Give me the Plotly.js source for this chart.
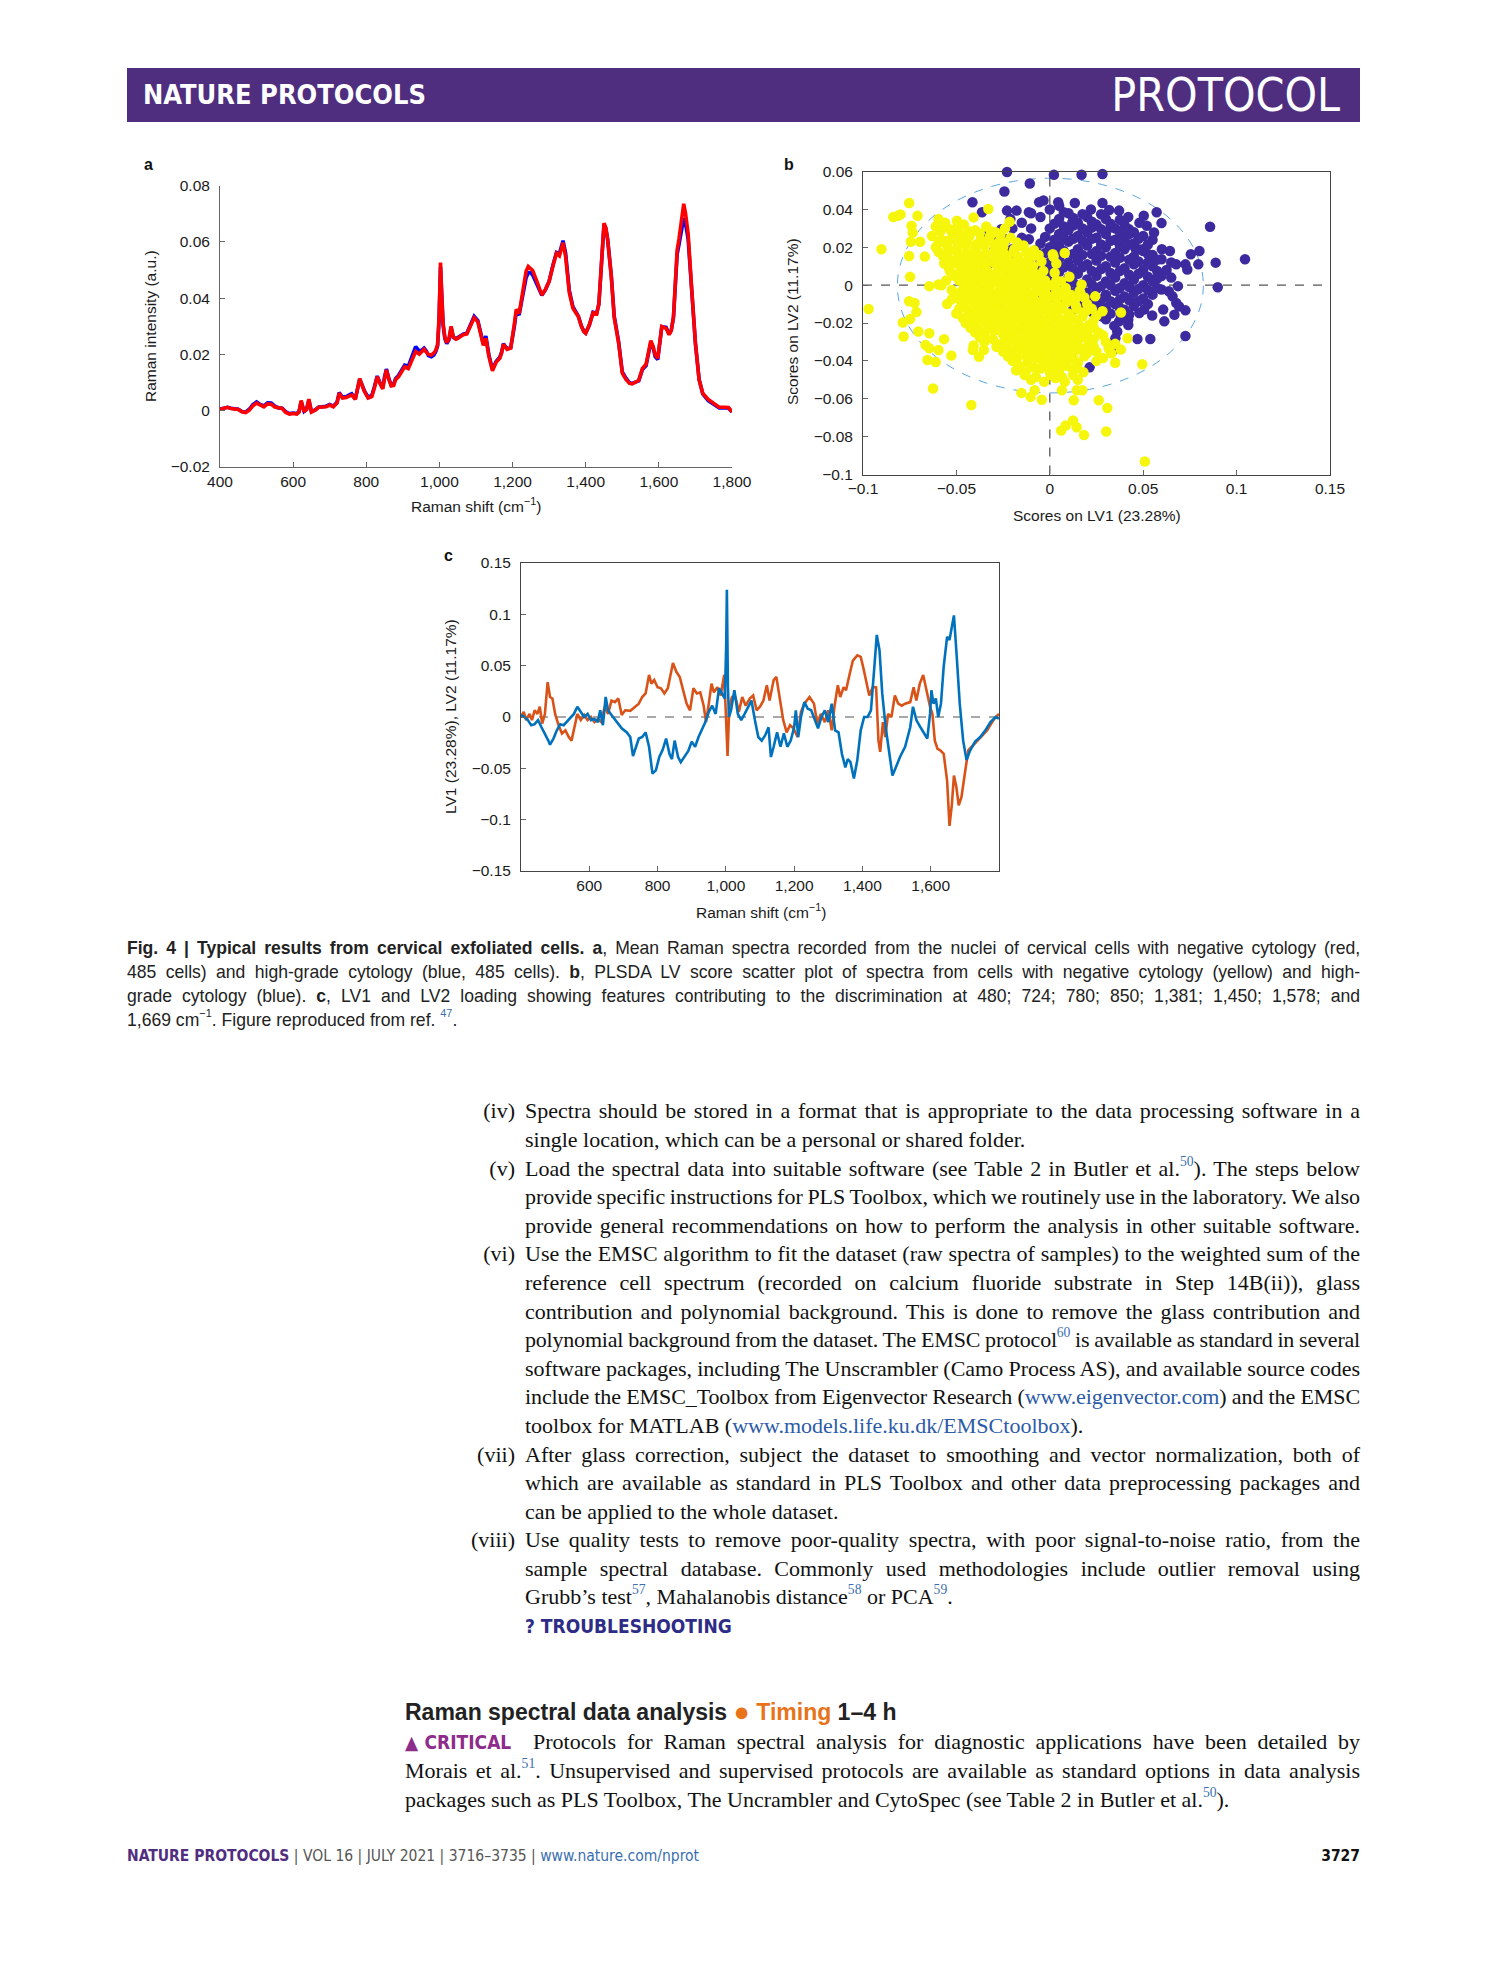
<!DOCTYPE html>
<html>
<head>
<meta charset="utf-8">
<script src="https://cdn.plot.ly/plotly-3.0.1.min.js"></script>
<style>
html,body{margin:0;padding:0;background:#fff;}
body{width:1489px;height:1978px;position:relative;overflow:hidden;}
.narrow{font-family:"DejaVu Sans Condensed","Liberation Sans",sans-serif;}
#bar{position:absolute;left:127px;top:68px;width:1233px;height:54px;background:#4f2d7f;color:#fff;}
#barL{position:absolute;left:16px;top:0;line-height:54px;font-size:27px;font-weight:bold;}
#barR{position:absolute;right:20px;top:0;line-height:54px;font-size:46px;font-weight:normal;}
#chart{position:absolute;left:0;top:0;width:1489px;height:940px;}
#caption{position:absolute;left:127px;top:936px;width:1233px;color:#222;}
#caption .cl{width:1298px;height:24px;line-height:24px;transform:scaleX(0.95);transform-origin:0 0;
  font-family:"Liberation Sans",Arial,sans-serif;font-size:18.5px;}
.j{text-align:justify;text-align-last:justify;}
sup{font-size:0.62em;line-height:0;vertical-align:0.75em;color:#3a6fb0;}
#body{position:absolute;left:525px;top:1097.4px;width:835px;font-family:"Liberation Serif","DejaVu Serif",serif;font-size:22px;color:#111;}
#body .ln{position:relative;height:28.6px;line-height:28.6px;}
#body .j,#crit .j{word-spacing:-1px;}
.num{position:absolute;left:-90px;width:80px;text-align:right;text-align-last:right;word-spacing:0;}
a{color:#2c5ba8;text-decoration:none;}
.ts{font-family:"DejaVu Sans Condensed",sans-serif;font-weight:bold;color:#2e2c86;font-size:19px;}
#heading{position:absolute;left:405px;top:1698px;height:28px;line-height:28px;font-family:"Liberation Sans",Arial,sans-serif;font-weight:bold;font-size:23px;color:#222;}
#heading .or{color:#e8731a;font-weight:normal;}
#heading .dot{font-size:27px;line-height:0;vertical-align:-1px;}
#crit{position:absolute;left:405px;top:1726.7px;width:955px;font-family:"Liberation Serif","DejaVu Serif",serif;font-size:22px;color:#111;}
#crit .ln{height:29px;line-height:29px;}
.cr{font-family:"DejaVu Sans Condensed",sans-serif;font-weight:bold;color:#8e2c8c;font-size:19px;word-spacing:0;}
#footer{position:absolute;left:127px;top:1845px;width:1233px;height:22px;line-height:22px;font-size:15.5px;color:#555;}
#footer .fp{color:#4f2d7f;font-weight:bold;}
#footer .fl{color:#3a6fb0;}
#footer .pg{position:absolute;right:0;top:0;font-weight:bold;color:#111;}
</style>
</head>
<body>
<div id="bar" class="narrow"><span id="barL">NATURE PROTOCOLS</span><span id="barR">PROTOCOL</span></div>
<div id="chart"></div>

<div id="caption">
<div class="cl j"><b>Fig. 4 | Typical results from cervical exfoliated cells. a</b>, Mean Raman spectra recorded from the nuclei of cervical cells with negative cytology (red,</div>
<div class="cl j">485 cells) and high-grade cytology (blue, 485 cells). <b>b</b>, PLSDA LV score scatter plot of spectra from cells with negative cytology (yellow) and high-</div>
<div class="cl j">grade cytology (blue). <b>c</b>, LV1 and LV2 loading showing features contributing to the discrimination at 480; 724; 780; 850; 1,381; 1,450; 1,578; and</div>
<div class="cl">1,669 cm<sup style="color:#222">−1</sup>. Figure reproduced from ref. <sup>47</sup>.</div>
</div>

<div id="body">
<div class="ln j"><span class="num">(iv)</span>Spectra should be stored in a format that is appropriate to the data processing software in a</div>
<div class="ln">single location, which can be a personal or shared folder.</div>
<div class="ln j"><span class="num">(v)</span>Load the spectral data into suitable software (see Table 2 in Butler et al.<sup>50</sup>). The steps below</div>
<div class="ln j">provide specific instructions for PLS Toolbox, which we routinely use in the laboratory. We also</div>
<div class="ln j">provide general recommendations on how to perform the analysis in other suitable software.</div>
<div class="ln j"><span class="num">(vi)</span>Use the EMSC algorithm to fit the dataset (raw spectra of samples) to the weighted sum of the</div>
<div class="ln j">reference cell spectrum (recorded on calcium fluoride substrate in Step 14B(ii)), glass</div>
<div class="ln j">contribution and polynomial background. This is done to remove the glass contribution and</div>
<div class="ln j">polynomial background from the dataset. The EMSC protocol<sup>60</sup> is available as standard in several</div>
<div class="ln j">software packages, including The Unscrambler (Camo Process AS), and available source codes</div>
<div class="ln j">include the EMSC_Toolbox from Eigenvector Research (<a>www.eigenvector.com</a>) and the EMSC</div>
<div class="ln">toolbox for MATLAB (<a>www.models.life.ku.dk/EMSCtoolbox</a>).</div>
<div class="ln j"><span class="num">(vii)</span>After glass correction, subject the dataset to smoothing and vector normalization, both of</div>
<div class="ln j">which are available as standard in PLS Toolbox and other data preprocessing packages and</div>
<div class="ln">can be applied to the whole dataset.</div>
<div class="ln j"><span class="num">(viii)</span>Use quality tests to remove poor-quality spectra, with poor signal-to-noise ratio, from the</div>
<div class="ln j">sample spectral database. Commonly used methodologies include outlier removal using</div>
<div class="ln">Grubb’s test<sup>57</sup>, Mahalanobis distance<sup>58</sup> or PCA<sup>59</sup>.</div>
<div class="ln"><span class="ts">? TROUBLESHOOTING</span></div>
</div>

<div id="heading">Raman spectral data analysis <span class="or dot">●</span> <span class="or" style="font-weight:bold">Timing</span> 1–4 h</div>
<div id="crit">
<div class="ln j"><span class="cr">▲CRITICAL</span>&nbsp; Protocols for Raman spectral analysis for diagnostic applications have been detailed by</div>
<div class="ln j">Morais et al.<sup>51</sup>. Unsupervised and supervised protocols are available as standard options in data analysis</div>
<div class="ln">packages such as PLS Toolbox, The Uncrambler and CytoSpec (see Table 2 in Butler et al.<sup>50</sup>).</div>
</div>

<div id="footer" class="narrow"><span class="fp">NATURE PROTOCOLS</span> | VOL 16 | JULY 2021 | 3716–3735 | <span class="fl">www.nature.com/nprot</span><span class="pg">3727</span></div>

<script>
// keep every text line on a single line: tighten letter spacing only if a line would wrap
document.querySelectorAll('#body .ln, #crit .ln, #caption .cl').forEach(el=>{
  const lh=parseFloat(getComputedStyle(el).lineHeight);
  el.style.height='auto';
  let ls=0;
  while(el.offsetHeight>lh*1.5 && ls>-2){ls-=0.1; el.style.letterSpacing=ls.toFixed(2)+'px';}
  el.style.height='';
});

// ---------- Panel a: mean Raman spectra ----------
const ramanShift = [
400,410,420,430,440,450,460,470,480,490,
500,510,520,530,540,550,560,570,580,590,
600,610,616,622,630,637,643,650,660,670,
680,690,700,710,720,726,735,745,755,760,
770,776,782,788,795,805,815,822,830,838,
845,850,855,862,868,875,880,888,895,905,
915,925,935,945,952,958,964,970,978,985,
990,995,999,1003,1006,1010,1015,1020,1026,1032,
1038,1045,1050,1058,1065,1075,1085,1095,1105,1112,
1120,1127,1135,1145,1155,1165,1170,1175,1180,1185,
1195,1200,1205,1210,1218,1225,1230,1237,1243,1250,
1255,1265,1272,1280,1290,1300,1310,1320,1328,1333,
1338,1345,1350,1355,1365,1372,1380,1388,1395,1400,
1410,1420,1430,1436,1440,1445,1450,1455,1460,1470,
1478,1490,1500,1510,1520,1527,1535,1545,1555,1565,
1572,1578,1584,1590,1597,1603,1608,1614,1620,1628,
1634,1640,1645,1650,1655,1660,1664,1668,1673,1680,
1690,1700,1710,1720,1735,1750,1765,1780,1790,1800];
const negativeMean = [
0.0005,0.0008,0.0012,0.0008,0.0006,0.0004,-0.0004,-0.0007,0.0002,0.0017,
0.0027,0.0019,0.0014,0.0024,0.0023,0.0013,0.0009,0.0008,-0.0006,-0.0012,
-0.0010,-0.0012,-0.0005,0.0036,-0.0004,0.0005,0.0041,-0.0005,0.0002,0.0012,
0.0013,0.0014,0.0020,0.0014,0.0028,0.0062,0.0045,0.0047,0.0053,0.0056,
0.0040,0.0075,0.0114,0.0092,0.0068,0.0045,0.0050,0.0080,0.0121,0.0095,
0.0077,0.0115,0.0145,0.0110,0.0088,0.0090,0.0110,0.0120,0.0133,0.0156,
0.0150,0.0180,0.0210,0.0201,0.0210,0.0218,0.0208,0.0200,0.0198,0.0205,
0.0215,0.0235,0.0330,0.0526,0.0420,0.0310,0.0260,0.0242,0.0255,0.0300,
0.0262,0.0254,0.0257,0.0265,0.0270,0.0273,0.0299,0.0330,0.0316,0.0280,
0.0232,0.0257,0.0195,0.0142,0.0172,0.0186,0.0205,0.0236,0.0228,0.0218,
0.0222,0.0260,0.0310,0.0360,0.0345,0.0400,0.0441,0.0495,0.0512,0.0505,
0.0498,0.0465,0.0440,0.0411,0.0431,0.0459,0.0512,0.0559,0.0550,0.0575,
0.0597,0.0548,0.0480,0.0420,0.0364,0.0352,0.0334,0.0300,0.0281,0.0275,
0.0305,0.0348,0.0344,0.0380,0.0453,0.0580,0.0666,0.0650,0.0607,0.0476,
0.0330,0.0240,0.0133,0.0111,0.0097,0.0095,0.0100,0.0108,0.0150,0.0165,
0.0210,0.0249,0.0230,0.0198,0.0186,0.0250,0.0299,0.0295,0.0293,0.0270,
0.0285,0.0334,0.0450,0.0571,0.0610,0.0654,0.0700,0.0735,0.0700,0.0630,
0.0429,0.0239,0.0109,0.0062,0.0040,0.0026,0.0012,0.0012,0.0011,-0.0004];
const highGradeMean = [
0.0006,0.0009,0.0012,0.0009,0.0007,0.0005,-0.0003,-0.0005,0.0005,0.0022,
0.0031,0.0022,0.0017,0.0028,0.0027,0.0016,0.0010,0.0009,-0.0004,-0.0010,
-0.0008,-0.0010,-0.0003,0.0032,-0.0002,0.0006,0.0038,-0.0003,0.0003,0.0013,
0.0014,0.0016,0.0022,0.0016,0.0030,0.0064,0.0048,0.0050,0.0057,0.0060,
0.0042,0.0076,0.0112,0.0093,0.0070,0.0048,0.0054,0.0084,0.0123,0.0098,
0.0081,0.0120,0.0148,0.0113,0.0092,0.0095,0.0114,0.0125,0.0140,0.0162,
0.0158,0.0192,0.0228,0.0212,0.0215,0.0222,0.0212,0.0196,0.0192,0.0198,
0.0210,0.0230,0.0320,0.0510,0.0410,0.0305,0.0255,0.0238,0.0252,0.0295,
0.0260,0.0256,0.0260,0.0268,0.0272,0.0276,0.0302,0.0335,0.0320,0.0285,
0.0238,0.0265,0.0200,0.0146,0.0175,0.0190,0.0208,0.0238,0.0230,0.0220,
0.0224,0.0255,0.0300,0.0350,0.0340,0.0390,0.0425,0.0472,0.0490,0.0490,
0.0482,0.0455,0.0432,0.0410,0.0430,0.0460,0.0515,0.0562,0.0558,0.0585,
0.0604,0.0560,0.0490,0.0428,0.0370,0.0356,0.0336,0.0302,0.0282,0.0276,
0.0304,0.0350,0.0346,0.0378,0.0448,0.0570,0.0660,0.0648,0.0608,0.0480,
0.0335,0.0245,0.0138,0.0116,0.0099,0.0097,0.0100,0.0106,0.0146,0.0160,
0.0205,0.0242,0.0226,0.0192,0.0182,0.0248,0.0298,0.0297,0.0296,0.0272,
0.0286,0.0332,0.0440,0.0555,0.0590,0.0630,0.0665,0.0684,0.0665,0.0610,
0.0425,0.0240,0.0112,0.0060,0.0036,0.0022,0.0010,0.0010,0.0010,-0.0005];

// ---------- Panel b: LV scores ----------
const highGradeScores = [
[-0.0229,0.0598],[0.0022,0.0583],[0.017,0.0583],[0.0282,0.0587],[-0.0107,0.0537],[-0.0243,0.0495],
[-0.0414,0.0438],[-0.0363,0.0385],[-0.0229,0.0394],[-0.0178,0.0394],[-0.0112,0.0385],[-0.0057,0.0438],
[-0.0034,0.0447],[0.0045,0.0438],[0.0134,0.0434],[0.0282,0.0434],[0.0318,0.0397],[0.0371,0.0394],
[0.0503,0.0367],[0.0572,0.0385],[0.0598,0.0328],[0.0858,0.0309],[0.0801,0.0181],[0.0755,0.0163],
[0.0795,0.011],[0.0888,0.0119],[0.1045,0.0137],[0.0899,-0.0011],[0.0726,0.011],[0.0677,0.011],
[0.0736,0.0083],[0.0643,0.0181],[0.0598,0.0137],[0.0538,0.0154],[0.0499,0.019],[0.046,0.019],
[0.0598,0.0048],[0.0558,0.003],[0.0598,-0.0023],[0.0686,-0.0005],[0.0637,-0.0032],[0.0677,-0.0094],
[0.0692,-0.0112],[0.0726,-0.0133],[0.0667,-0.0156],[0.0607,-0.0129],[0.0613,-0.0191],[0.0505,-0.0129],
[0.0548,-0.016],[0.0479,-0.0147],[0.0726,-0.0268],[0.0538,-0.0284],[0.0469,-0.0284],[0.0371,-0.0191],
[0.042,-0.0183],[0.0361,-0.0245],[0.0351,-0.028],[0.0321,-0.0316],[0.0341,-0.0342],[0.0213,-0.0434],
[0.0282,-0.0165],[0.0243,-0.0085],[0.0203,-0.0059],[0.0183,-0.0112],[0.0124,-0.0129],[0.0085,-0.0076],
[0.0026,-0.0067],[-0.0034,-0.0023],[-0.0073,-0.0059],[-0.0112,-0.0076],[-0.0132,-0.0023],[-0.0181,0.0012],
[-0.0211,0.0048],[-0.0241,0.0092],[-0.031,0.0119],[-0.0349,0.0101],[-0.0379,0.0066],[-0.0389,0.0039],
[-0.0428,0.0012],[-0.0428,-0.0041],[-0.0329,0.027],[-0.029,0.0261],[-0.026,0.0296],[-0.0211,0.0349],
[-0.0201,0.019],[-0.0152,0.0216],[-0.0112,0.0243],[-0.0231,0.0243],[0.0519,0.0314],[0.0558,0.0278],
[0.0657,-0.0059],[0.0455,-0.0095],
[0.005,0.035],[0.01,0.038],[0.015,0.033],[0.02,0.036],[0.025,0.032],[0.03,0.035],[0.035,0.03],[0.04,0.032],[0.045,0.028],
[0.0,0.03],[0.005,0.027],[0.01,0.029],[0.015,0.026],[0.02,0.028],[0.025,0.025],[0.03,0.027],[0.035,0.024],[0.04,0.025],
[0.045,0.022],[0.05,0.026],[0.055,0.024],[-0.005,0.022],[0.0,0.02],[0.005,0.021],[0.01,0.023],[0.015,0.019],[0.02,0.021],
[0.025,0.018],[0.03,0.02],[0.035,0.017],[0.04,0.019],[0.045,0.015],[0.05,0.018],[0.055,0.016],[0.06,0.019],
[-0.01,0.015],[-0.005,0.013],[0.0,0.012],[0.005,0.014],[0.01,0.012],[0.015,0.013],[0.02,0.011],[0.025,0.013],[0.03,0.01],
[0.035,0.012],[0.04,0.009],[0.045,0.011],[0.05,0.008],[0.055,0.01],[0.065,0.012],
[-0.015,0.008],[-0.01,0.006],[0.0,0.005],[0.005,0.007],[0.01,0.004],[0.015,0.006],[0.02,0.003],[0.025,0.005],[0.03,0.002],
[0.035,0.004],[0.04,0.001],[0.045,0.003],[0.05,0.0],[0.055,0.002],[0.065,0.004],
[0.0,-0.002],[0.01,-0.003],[0.015,-0.001],[0.02,-0.004],[0.025,-0.002],[0.03,-0.005],[0.035,-0.003],[0.04,-0.006],
[0.045,-0.004],[0.05,-0.007],[0.055,-0.005],[0.015,-0.009],[0.02,-0.011],[0.025,-0.009],[0.03,-0.012],[0.035,-0.01],
[0.04,-0.013],[0.045,-0.011],[0.03,-0.018],[0.038,-0.016],[0.042,-0.021],
[-0.02,0.03],[-0.015,0.033],[-0.01,0.03],[-0.005,0.036],[-0.025,0.022],[-0.02,0.016],[-0.015,0.025],[-0.03,0.018],
[-0.01,0.038],[0.0,0.04],[0.005,0.042],[0.022,0.04],[0.012,0.033],[0.042,0.036],[0.048,0.033],
[0.0075,0.0385],[0.0125,0.0355],[0.0175,0.0375],[0.0225,0.0335],[0.0275,0.0375],[0.0325,0.0325],[0.0375,0.0345],[0.0425,0.0295],
[0.0025,0.0325],[0.0075,0.031],[0.0125,0.0315],[0.0175,0.03],[0.0225,0.0305],[0.0275,0.0295],[0.0325,0.0305],[0.0375,0.028],
[0.0425,0.027],[0.0475,0.0245],[0.0525,0.0215],
[-0.0025,0.0255],[0.0025,0.024],[0.0075,0.025],[0.0125,0.0245],[0.0175,0.0235],[0.0225,0.0245],[0.0275,0.0215],[0.0325,0.0235],
[0.0375,0.021],[0.0425,0.0215],[0.0475,0.019],[0.0525,0.0165],[0.0575,0.0135],
[-0.0075,0.0185],[-0.0025,0.017],[0.0025,0.0175],[0.0075,0.018],[0.0125,0.0165],[0.0175,0.016],[0.0225,0.0165],[0.0275,0.0155],
[0.0325,0.015],[0.0375,0.0145],[0.0425,0.0135],[0.0475,0.0125],[0.0525,0.012],[0.0575,0.0075],[0.0625,0.008],
[-0.0125,0.011],[-0.0075,0.0095],[-0.0025,0.0085],[0.0025,0.0095],[0.0075,0.0095],[0.0125,0.0085],[0.0175,0.0095],[0.0225,0.0075],
[0.0275,0.0085],[0.0325,0.0065],[0.0375,0.0075],[0.0425,0.0055],[0.0475,0.006],[0.0525,0.0045],[0.0575,0.0035],
[0.0025,0.0015],[0.0075,0.001],[0.0125,0.0015],[0.0175,0.0005],[0.0225,0.0005],[0.0275,-0.0005],[0.0325,0.0],[0.0375,-0.0015],
[0.0425,-0.001],[0.0475,-0.002],[0.0525,-0.0025],[0.0575,-0.0015],
[0.0125,-0.006],[0.0175,-0.0065],[0.0225,-0.0065],[0.0275,-0.0075],[0.0325,-0.0085],[0.0375,-0.0075],[0.0425,-0.008],[0.0475,-0.0085],
[0.0525,-0.01],[0.0225,-0.014],[0.0275,-0.012],[0.0325,-0.015],[0.0375,-0.012],[0.0425,-0.0155],[0.0345,-0.0215]];

const negativeScores = [
[-0.0753,0.0434],[-0.0838,0.036],[-0.0813,0.0367],[-0.0799,0.0374],[-0.0708,0.0367],[-0.074,0.0314],
[-0.0734,0.0278],[-0.0694,0.0229],[-0.0744,0.0229],[-0.0901,0.019],[-0.0753,0.0154],[-0.0669,0.0151],
[-0.0748,0.0044],[-0.097,-0.0126],[-0.0645,-0.0005],[-0.0596,0.0004],[-0.0753,-0.0085],[-0.0724,-0.0094],
[-0.0714,-0.0142],[-0.0748,-0.0179],[-0.0787,-0.0197],[-0.0783,-0.0271],[-0.0704,-0.0245],[-0.0645,-0.0254],
[-0.0665,-0.0316],[-0.0645,-0.0333],[-0.0596,-0.0342],[-0.0655,-0.0395],[-0.0611,-0.0406],[-0.0527,-0.0372],
[-0.0566,-0.0285],[-0.0408,-0.0319],[-0.0412,-0.0342],[-0.0379,-0.0378],[-0.0353,-0.0342],[-0.0625,-0.0546],
[-0.042,-0.0633],[-0.0152,-0.0569],[-0.0103,-0.059],[-0.0081,-0.0555],[-0.0043,-0.0605],[0.0065,-0.0555],
[0.0144,-0.0555],[0.0174,-0.0555],[0.0128,-0.0608],[0.0262,-0.0608],[0.0308,-0.0649],[0.0124,-0.0715],
[0.0085,-0.0741],[0.0061,-0.0768],[0.0144,-0.075],[0.0183,-0.0791],[0.0302,-0.0773],[0.0509,-0.0931],
[0.0495,-0.0418],[0.0416,-0.028],[0.0381,-0.0144],[0.0282,-0.0138],[0.0243,-0.0059],[0.017,0.0004],
[0.0164,-0.0044],[0.0026,0.0066],[0.0016,0.0163],[-0.0329,0.0402],[-0.0408,0.0358],[-0.0497,0.034],
[-0.0596,0.0349],[-0.0215,0.0335],[-0.0152,0.0207],[-0.0085,0.0185],[0.0035,0.0115],[0.0105,0.0045],
[-0.061,0.031],[-0.056,0.033],[-0.05,0.03],[-0.046,0.032],[-0.04,0.029],[-0.034,0.031],[-0.029,0.028],[-0.024,0.030],
[-0.063,0.026],[-0.058,0.024],[-0.052,0.027],[-0.047,0.025],[-0.043,0.026],[-0.037,0.024],[-0.032,0.026],[-0.027,0.023],[-0.021,0.025],
[-0.061,0.02],[-0.055,0.021],[-0.05,0.019],[-0.045,0.021],[-0.04,0.019],[-0.035,0.021],[-0.03,0.018],[-0.025,0.02],[-0.019,0.019],[-0.014,0.021],
[-0.057,0.015],[-0.052,0.013],[-0.048,0.016],[-0.043,0.014],[-0.038,0.015],[-0.033,0.013],[-0.028,0.016],[-0.023,0.014],[-0.017,0.015],
[-0.012,0.013],[-0.006,0.016],[0.002,0.015],[0.008,0.017],
[-0.054,0.009],[-0.049,0.011],[-0.045,0.009],[-0.039,0.01],[-0.034,0.008],[-0.029,0.011],[-0.024,0.009],[-0.019,0.01],[-0.014,0.008],[-0.009,0.01],
[-0.051,0.005],[-0.046,0.004],[-0.041,0.006],[-0.036,0.004],[-0.031,0.005],[-0.026,0.003],[-0.021,0.005],[-0.016,0.004],[-0.011,0.006],[-0.006,0.004],
[-0.058,0.0],[-0.046,-0.001],[-0.041,0.001],[-0.036,-0.001],[-0.031,0.001],[-0.026,-0.001],[-0.021,0.0],[-0.016,-0.001],[-0.01,0.001],[-0.005,-0.001],[0.001,0.0],[0.006,0.002],
[-0.05,-0.005],[-0.044,-0.006],[-0.039,-0.004],[-0.034,-0.006],[-0.029,-0.005],[-0.024,-0.006],[-0.019,-0.004],[-0.014,-0.006],[-0.009,-0.005],[-0.004,-0.004],[0.001,-0.006],[0.006,-0.004],[0.011,-0.005],[0.016,-0.003],
[-0.055,-0.01],[-0.046,-0.011],[-0.041,-0.009],[-0.036,-0.011],[-0.031,-0.01],[-0.026,-0.011],[-0.021,-0.009],[-0.016,-0.011],[-0.011,-0.01],[-0.006,-0.009],[-0.001,-0.011],[0.004,-0.01],[0.009,-0.009],[0.014,-0.011],[0.02,-0.01],
[-0.05,-0.015],[-0.041,-0.016],[-0.036,-0.014],[-0.031,-0.016],[-0.026,-0.015],[-0.021,-0.016],[-0.016,-0.014],[-0.011,-0.016],[-0.006,-0.015],[-0.001,-0.014],[0.004,-0.016],[0.01,-0.015],[0.019,-0.014],[0.025,-0.016],
[-0.045,-0.02],[-0.04,-0.021],[-0.035,-0.019],[-0.03,-0.021],[-0.025,-0.02],[-0.02,-0.021],[-0.015,-0.019],[-0.01,-0.021],[-0.005,-0.02],[0.0,-0.019],[0.005,-0.021],[0.01,-0.02],[0.015,-0.019],[0.021,-0.021],
[-0.04,-0.025],[-0.035,-0.026],[-0.03,-0.024],[-0.025,-0.026],[-0.02,-0.025],[-0.015,-0.024],[-0.01,-0.026],[-0.005,-0.025],[0.0,-0.024],[0.005,-0.026],[0.01,-0.025],[0.015,-0.024],[0.02,-0.026],[0.026,-0.025],
[-0.035,-0.03],[-0.026,-0.031],[-0.021,-0.029],[-0.015,-0.031],[-0.01,-0.03],[-0.005,-0.031],[0.0,-0.029],[0.005,-0.03],[0.01,-0.031],[0.015,-0.029],[0.021,-0.031],[0.03,-0.03],[0.035,-0.031],
[-0.025,-0.035],[-0.02,-0.036],[-0.015,-0.034],[-0.01,-0.036],[-0.005,-0.035],[0.0,-0.034],[0.005,-0.036],[0.01,-0.035],[0.015,-0.034],[0.02,-0.036],[0.025,-0.035],[0.033,-0.036],[0.038,-0.034],
[-0.02,-0.04],[-0.012,-0.041],[-0.005,-0.039],[0.0,-0.041],[0.005,-0.04],[0.01,-0.039],[0.015,-0.041],[0.025,-0.04],[0.035,-0.041],
[-0.018,-0.045],[-0.013,-0.046],[-0.005,-0.044],[0.0,-0.046],[0.005,-0.045],[0.012,-0.044],[0.018,-0.046],
[-0.01,-0.05],[-0.003,-0.051],[0.003,-0.049],[0.008,-0.051],[0.015,-0.05],
[-0.0585,0.0285],[-0.0535,0.0295],[-0.0485,0.0275],[-0.0435,0.0285],[-0.0375,0.0275],[-0.0315,0.0285],[-0.0265,0.0265],
[-0.0595,0.0225],[-0.0545,0.0235],[-0.0495,0.0225],[-0.0445,0.0235],[-0.0395,0.0215],[-0.0345,0.0225],[-0.0295,0.0215],[-0.0245,0.0225],[-0.0175,0.0225],
[-0.0595,0.0175],[-0.0545,0.0175],[-0.0495,0.0175],[-0.0445,0.0165],[-0.0395,0.0175],[-0.0345,0.0165],[-0.0295,0.0175],[-0.0245,0.0165],[-0.0195,0.0175],[-0.0125,0.0175],[-0.0085,0.0155],
[-0.0565,0.0115],[-0.0515,0.0125],[-0.0465,0.0115],[-0.0415,0.0125],[-0.0365,0.0115],[-0.0315,0.0125],[-0.0265,0.0115],[-0.0215,0.0125],[-0.0165,0.0115],[-0.0115,0.0105],[-0.0045,0.0125],
[-0.0535,0.0075],[-0.0485,0.0065],[-0.0435,0.0075],[-0.0385,0.0065],[-0.0335,0.0075],[-0.0285,0.0065],[-0.0235,0.0075],[-0.0185,0.0065],[-0.0135,0.0075],[-0.0085,0.0065],[-0.0035,0.0075],
[-0.0555,0.0025],[-0.0485,0.0025],[-0.0435,0.0025],[-0.0385,0.0015],[-0.0335,0.0025],[-0.0285,0.0015],[-0.0235,0.0025],[-0.0185,0.0015],[-0.0135,0.0025],[-0.0085,0.0015],[-0.0025,0.0025],[0.0035,0.0025],
[-0.0525,-0.0025],[-0.0475,-0.0035],[-0.0425,-0.0025],[-0.0375,-0.0035],[-0.0325,-0.0025],[-0.0275,-0.0035],[-0.0225,-0.0025],[-0.0175,-0.0035],[-0.0125,-0.0025],[-0.0075,-0.0035],[-0.0025,-0.0025],[0.0035,-0.0025],[0.0085,-0.0015],
[-0.0525,-0.0075],[-0.0475,-0.0085],[-0.0425,-0.0075],[-0.0375,-0.0085],[-0.0325,-0.0075],[-0.0275,-0.0085],[-0.0225,-0.0075],[-0.0175,-0.0085],[-0.0125,-0.0075],[-0.0075,-0.0085],[-0.0025,-0.0075],[0.0035,-0.0075],[0.0085,-0.0065],[0.0135,-0.0075],[0.0185,-0.0065],
[-0.0485,-0.0125],[-0.0435,-0.0135],[-0.0385,-0.0125],[-0.0335,-0.0135],[-0.0285,-0.0125],[-0.0235,-0.0135],[-0.0185,-0.0125],[-0.0135,-0.0135],[-0.0085,-0.0125],[-0.0035,-0.0125],[0.0015,-0.0135],[0.0065,-0.0125],[0.0145,-0.0125],[0.0225,-0.0125],
[-0.0465,-0.0175],[-0.0425,-0.0185],[-0.0375,-0.0175],[-0.0325,-0.0185],[-0.0275,-0.0175],[-0.0225,-0.0185],[-0.0175,-0.0175],[-0.0125,-0.0185],[-0.0075,-0.0175],[-0.0025,-0.0185],[0.0025,-0.0175],[0.0075,-0.0185],[0.0125,-0.0175],[0.0175,-0.0165],[0.0235,-0.0185],
[-0.0425,-0.0225],[-0.0375,-0.0235],[-0.0325,-0.0225],[-0.0275,-0.0235],[-0.0225,-0.0225],[-0.0175,-0.0235],[-0.0125,-0.0225],[-0.0075,-0.0235],[-0.0025,-0.0225],[0.0025,-0.0235],[0.0075,-0.0225],[0.0125,-0.0235],[0.0175,-0.0225],[0.0235,-0.0225],
[-0.0375,-0.0275],[-0.0305,-0.0285],[-0.0235,-0.0275],[-0.0175,-0.0285],[-0.0125,-0.0275],[-0.0075,-0.0285],[-0.0025,-0.0275],[0.0025,-0.0285],[0.0075,-0.0275],[0.0125,-0.0285],[0.0175,-0.0275],[0.0235,-0.0285],[0.0285,-0.0265],
[-0.0285,-0.0325],[-0.0225,-0.0335],[-0.0175,-0.0325],[-0.0125,-0.0335],[-0.0075,-0.0325],[-0.0025,-0.0335],[0.0025,-0.0325],[0.0075,-0.0335],[0.0125,-0.0325],[0.0175,-0.0335],[0.0235,-0.0325],[0.0315,-0.0335],
[-0.0225,-0.0375],[-0.0175,-0.0385],[-0.0125,-0.0375],[-0.0075,-0.0385],[-0.0025,-0.0375],[0.0025,-0.0385],[0.0075,-0.0375],[0.0125,-0.0385],[0.0185,-0.0375],[0.0285,-0.0385],
[-0.0165,-0.0425],[-0.0085,-0.0435],[-0.0025,-0.0425],[0.0035,-0.0435],[0.0085,-0.0425],[0.0145,-0.0435],
[-0.0135,-0.0475],[-0.0075,-0.0485],[0.0005,-0.0475],[0.0065,-0.0485],[0.0125,-0.0475]];

// 95% confidence ellipse (centre and semi-axes)
const confEllipse = {cx:0.0003, cy:-0.0002, rx:0.0819, ry:0.0567};

// ---------- Panel c: LV loadings ----------
const lv1Shift = [400,410,420,430,440,450,460,470,480,485,495,505,515,525,540,555,565,575,585,595,605,615,625,632,640,648,655,665,680,695,710,720,728,735,745,755,765,775,785,795,805,815,825,835,842,850,860,868,880,890,900,910,920,930,940,950,960,970,980,990,997,1001,1003,1006,1009,1015,1025,1035,1045,1055,1065,1075,1085,1095,1105,1115,1125,1132,1140,1150,1160,1170,1180,1190,1200,1205,1212,1220,1230,1240,1250,1260,1270,1280,1290,1300,1310,1320,1330,1340,1350,1357,1365,1375,1385,1395,1405,1415,1425,1435,1442,1450,1458,1468,1478,1488,1498,1510,1525,1540,1548,1558,1570,1580,1590,1598,1602,1608,1615,1622,1630,1638,1648,1655,1662,1668,1675,1685,1695,1705,1715,1730,1745,1760,1775,1790,1800];
const lv1Loading = [0.002,0.0,-0.003,-0.008,-0.007,-0.003,-0.010,-0.016,-0.023,-0.027,-0.021,-0.013,-0.007,-0.008,-0.003,0.003,0.010,0.005,0.0,0.003,-0.003,-0.002,-0.005,0.0065,-0.008,0.0195,0.0065,0.002,-0.005,-0.011,-0.015,-0.0195,-0.038,-0.031,-0.021,-0.0195,-0.015,-0.029,-0.055,-0.052,-0.039,-0.032,-0.021,-0.036,-0.041,-0.023,-0.039,-0.044,-0.038,-0.033,-0.024,-0.029,-0.0195,-0.013,-0.005,0.005,0.011,0.003,0.028,0.022,0.018,0.07,0.124,0.03,0.0,0.0065,0.026,0.003,-0.003,0.003,0.010,0.016,-0.003,-0.0195,-0.023,-0.018,-0.010,-0.039,-0.029,-0.015,-0.029,-0.016,-0.029,-0.023,-0.010,0.0065,-0.0195,0.0,0.0145,0.008,0.0065,-0.003,-0.011,0.0,0.0065,-0.005,0.013,-0.013,-0.015,-0.036,-0.049,-0.041,-0.044,-0.060,-0.042,-0.013,0.0,0.0,0.0065,0.049,0.080,0.065,0.023,-0.010,-0.036,-0.057,-0.049,-0.039,-0.029,-0.010,0.010,-0.003,-0.010,-0.016,-0.021,0.003,0.026,0.013,0.018,0.0,0.013,0.049,0.078,0.075,0.088,0.099,0.065,0.013,-0.023,-0.042,-0.033,-0.024,-0.0195,-0.013,-0.005,0.0,-0.0015];
const lv2Shift = [400,408,415,425,432,440,448,455,462,470,478,485,492,500,510,520,530,540,548,555,565,575,585,595,605,615,625,635,645,655,665,675,685,695,705,720,735,745,755,765,775,782,790,800,810,820,830,845,855,865,875,885,895,905,915,925,935,942,950,958,965,975,985,995,1000,1005,1010,1018,1028,1038,1048,1058,1070,1080,1090,1100,1110,1120,1128,1140,1148,1158,1168,1178,1188,1198,1210,1220,1230,1245,1258,1268,1278,1290,1300,1310,1318,1328,1335,1345,1352,1362,1372,1385,1395,1402,1410,1420,1430,1440,1447,1452,1460,1467,1475,1485,1495,1505,1515,1525,1540,1550,1558,1568,1578,1588,1598,1605,1612,1620,1628,1638,1648,1655,1662,1668,1675,1682,1690,1700,1710,1720,1735,1750,1765,1780,1790,1800];
const lv2Loading = [0.0,0.005,-0.003,0.003,-0.003,0.0065,0.003,0.010,-0.0065,0.003,0.034,0.0195,0.018,0.003,-0.008,-0.016,-0.013,-0.0195,-0.023,-0.013,0.003,-0.003,0.002,-0.003,0.0,-0.005,-0.002,-0.005,0.010,0.003,0.016,0.0145,0.018,0.002,0.0065,0.006,0.010,0.013,0.0195,0.023,0.041,0.0325,0.036,0.029,0.028,0.023,0.028,0.0527,0.044,0.039,0.026,0.013,0.0065,0.028,0.023,0.024,0.011,-0.005,0.013,0.0325,0.024,0.029,0.021,0.041,0.003,-0.038,0.010,0.0195,0.0195,0.005,0.0195,0.011,0.018,0.021,0.0065,0.010,0.016,0.031,0.016,0.036,0.039,0.016,-0.003,-0.015,-0.008,-0.011,-0.0195,0.005,0.013,0.0195,0.013,-0.0065,0.003,-0.005,0.0065,-0.013,0.010,0.031,0.0195,0.029,0.026,0.041,0.055,0.060,0.0585,0.049,0.036,0.021,0.029,0.029,-0.023,-0.034,-0.005,-0.0195,0.003,0.0,0.021,0.013,0.011,0.013,0.0145,0.029,0.016,0.0325,0.041,0.026,0.010,0.003,-0.023,-0.031,-0.0325,-0.036,-0.062,-0.106,-0.085,-0.057,-0.068,-0.086,-0.078,-0.055,-0.0325,-0.029,-0.024,-0.018,-0.013,-0.005,0.0,0.003];

// ---------- tick labels ----------
const aXTickVals=[400,600,800,1000,1200,1400,1600,1800];
const aXTickText=['400','600','800','1,000','1,200','1,400','1,600','1,800'];
const aYTickVals=[-0.02,0,0.02,0.04,0.06,0.08];
const aYTickText=['−0.02','0','0.02','0.04','0.06','0.08'];
const bXTickVals=[-0.1,-0.05,0,0.05,0.1,0.15];
const bXTickText=['−0.1','−0.05','0','0.05','0.1','0.15'];
const bYTickVals=[-0.1,-0.08,-0.06,-0.04,-0.02,0,0.02,0.04,0.06];
const bYTickText=['−0.1','−0.08','−0.06','−0.04','−0.02','0','0.02','0.04','0.06'];
const cXTickVals=[600,800,1000,1200,1400,1600];
const cXTickText=['600','800','1,000','1,200','1,400','1,600'];
const cYTickVals=[-0.15,-0.1,-0.05,0,0.05,0.1,0.15];
const cYTickText=['−0.15','−0.1','−0.05','0','0.05','0.1','0.15'];

// ---------- layout helpers (page pixels -> paper fractions) ----------
const W=1489, H=940;
const px=v=>v/W, py=v=>1-v/H;
const FONT='"Liberation Sans", Arial, Helvetica, sans-serif';
const tickFont={family:FONT,size:15.5,color:'#1a1a1a'};

function axisBase(extra){
  return Object.assign({
    showgrid:false, zeroline:false, showline:true, linecolor:'#666', linewidth:1,
    ticks:'inside', ticklen:5, tickwidth:1, tickcolor:'#666', tickfont:tickFont,
    fixedrange:true, ticklabelstandoff:0
  }, extra);
}

const traces=[
  {x:ramanShift,y:highGradeMean,xaxis:'x',yaxis:'y',mode:'lines',line:{color:'#0000ff',width:3.6},hoverinfo:'skip'},
  {x:ramanShift,y:negativeMean,xaxis:'x',yaxis:'y',mode:'lines',line:{color:'#ff0000',width:3.6},hoverinfo:'skip'},
  {x:highGradeScores.map(p=>p[0]),y:highGradeScores.map(p=>p[1]),xaxis:'x2',yaxis:'y2',mode:'markers',cliponaxis:false,
   marker:{color:'#3d2a9e',size:10.5,line:{width:0}},hoverinfo:'skip'},
  {x:negativeScores.map(p=>p[0]),y:negativeScores.map(p=>p[1]),xaxis:'x2',yaxis:'y2',mode:'markers',cliponaxis:false,
   marker:{color:'#f6f60c',size:10.5,line:{width:0}},hoverinfo:'skip'},
  {x:lv2Shift,y:lv2Loading,xaxis:'x3',yaxis:'y3',mode:'lines',line:{color:'#D95319',width:2.6},hoverinfo:'skip'},
  {x:lv1Shift,y:lv1Loading,xaxis:'x3',yaxis:'y3',mode:'lines',line:{color:'#0072BD',width:2.6},hoverinfo:'skip'}
];

const ann=(x,y,text,opts)=>Object.assign({xref:'paper',yref:'paper',x:px(x),y:py(y),text:text,showarrow:false,
  xanchor:'center',yanchor:'middle',font:{family:FONT,size:15.5,color:'#1a1a1a'}},opts||{});

const layout={
  width:W,height:H,margin:{l:0,r:0,t:0,b:0},paper_bgcolor:'rgba(0,0,0,0)',plot_bgcolor:'rgba(0,0,0,0)',
  showlegend:false,
  xaxis:axisBase({domain:[px(220),px(732)],range:[400,1800],tickvals:aXTickVals,ticktext:aXTickText,anchor:'y'}),
  yaxis:axisBase({domain:[py(467),py(185.5)],range:[-0.02,0.08],tickvals:aYTickVals,ticktext:aYTickText,anchor:'x',ticklabelstandoff:6}),
  xaxis2:axisBase({domain:[px(863),px(1330)],range:[-0.1,0.15],tickvals:bXTickVals,ticktext:bXTickText,anchor:'y2',mirror:true,linecolor:'#444'}),
  yaxis2:axisBase({domain:[py(474.5),py(171.6)],range:[-0.1,0.06],tickvals:bYTickVals,ticktext:bYTickText,anchor:'x2',mirror:true,linecolor:'#444',ticklabelstandoff:6}),
  xaxis3:axisBase({domain:[px(521),px(999)],range:[400,1800],tickvals:cXTickVals,ticktext:cXTickText,anchor:'y3',mirror:true,linecolor:'#444'}),
  yaxis3:axisBase({domain:[py(871),py(563)],range:[-0.15,0.15],tickvals:cYTickVals,ticktext:cYTickText,anchor:'x3',mirror:true,linecolor:'#444',ticklabelstandoff:6}),
  shapes:[
    {type:'circle',xref:'x2',yref:'y2',x0:confEllipse.cx-confEllipse.rx,x1:confEllipse.cx+confEllipse.rx,
     y0:confEllipse.cy-confEllipse.ry,y1:confEllipse.cy+confEllipse.ry,line:{color:'#5aa6dc',width:1,dash:'dash'},layer:'below'},
    {type:'line',xref:'x2',yref:'y2',x0:0,x1:0,y0:-0.1,y1:0.06,line:{color:'#555',width:1.3,dash:'dash'},layer:'below'},
    {type:'line',xref:'x2',yref:'y2',x0:-0.1,x1:0.15,y0:0,y1:0,line:{color:'#555',width:1.3,dash:'dash'},layer:'below'},
    {type:'line',xref:'x3',yref:'y3',x0:400,x1:1800,y0:0,y1:0,line:{color:'#a8a8a8',width:2,dash:'dash'},layer:'below'}
  ],
  annotations:[
    ann(148,164,'<b>a</b>',{font:{family:FONT,size:16,color:'#111'}}),
    ann(789,164,'<b>b</b>',{font:{family:FONT,size:16,color:'#111'}}),
    ann(448,555,'<b>c</b>',{font:{family:FONT,size:16,color:'#111'}}),
    ann(476,505,'Raman shift (cm<sup>−1</sup>)'),
    ann(150,326,'Raman intensity (a.u.)',{textangle:-90}),
    ann(1097,515,'Scores on LV1 (23.28%)'),
    ann(792,322,'Scores on LV2 (11.17%)',{textangle:-90}),
    ann(761,911,'Raman shift (cm<sup>−1</sup>)'),
    ann(450,717,'LV1 (23.28%), LV2 (11.17%)',{textangle:-90})
  ]
};

Plotly.newPlot('chart',traces,layout,{displayModeBar:false,staticPlot:true});
</script>
</body>
</html>
